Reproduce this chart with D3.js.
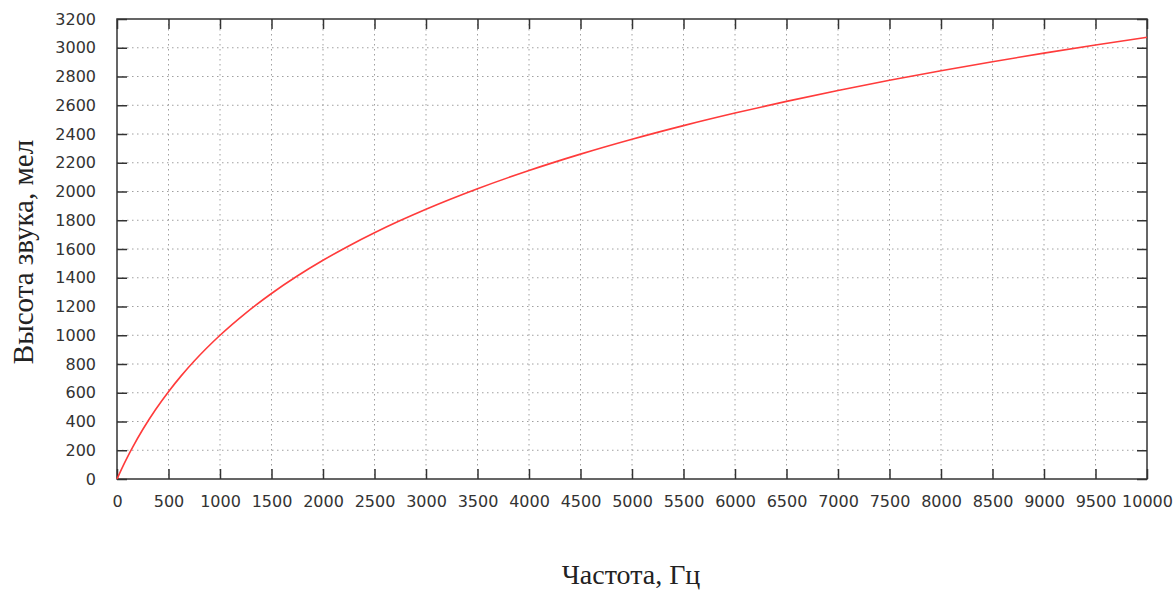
<!DOCTYPE html>
<html><head><meta charset="utf-8">
<script src="https://cdn.jsdelivr.net/npm/d3@7"></script>
<style>body{margin:0;background:#fff;}svg{display:block;}</style>
</head><body>
<svg id="c" width="1174" height="592"></svg>
<script>
const freqHz = [0,50,100,125,150,250,375,500,625,750,1000,1250,1500,1750,2000,2250,2500,2750,3000,3500,4000,4500,5000,5500,6000,6500,7000,7500,8000,8500,9000,9500,10000];
const pitchMel = [0,77.8,150.5,185.2,218.8,344.2,483.5,607.4,719.1,820.7,1000,1154.6,1290.6,1411.9,1521.4,1621.2,1712.9,1797.6,1876.5,2019.3,2146.1,2260,2363.5,2458.3,2545.7,2626.8,2702.5,2773.4,2840.1,2903.1,2962.7,3019.3,3073.2];
const xTicks = d3.range(0, 10001, 500);
const yTicks = d3.range(0, 3201, 200);
const xTitle = "Частота, Гц";
const yTitle = "Высота звука, мел";

const svg = d3.select("#c");
const L = 117, R = 1147, T = 19, B = 479;
const x = d3.scaleLinear().domain([0, 10000]).range([L, R]);
const y = d3.scaleLinear().domain([0, 3200]).range([B, T]);

// grid
const g = svg.append("g");
g.selectAll("line.gx").data(xTicks.slice(1, -1)).join("line")
  .attr("x1", d => x(d)).attr("x2", d => x(d)).attr("y1", T).attr("y2", B)
  .attr("stroke", "#a0a0a0").attr("stroke-width", 1).attr("stroke-dasharray", "1.5,3.5");
g.selectAll("line.gy").data(yTicks.slice(1, -1)).join("line")
  .attr("x1", L).attr("x2", R).attr("y1", d => y(d)).attr("y2", d => y(d))
  .attr("stroke", "#a0a0a0").attr("stroke-width", 1).attr("stroke-dasharray", "1.5,3.5");

// axes
const tickLen = 10;
const xb = svg.append("g").attr("transform", `translate(0,${B})`)
  .call(d3.axisBottom(x).tickValues(xTicks).tickSize(-tickLen).tickPadding(tickLen + 7).tickFormat(d3.format("d")));
const xt = svg.append("g").attr("transform", `translate(0,${T})`)
  .call(d3.axisTop(x).tickValues(xTicks).tickSize(-tickLen).tickFormat(""));
const yl = svg.append("g").attr("transform", `translate(${L},0)`)
  .call(d3.axisLeft(y).tickValues(yTicks).tickSize(-tickLen).tickPadding(tickLen + 11).tickFormat(d3.format("d")));
const yr = svg.append("g").attr("transform", `translate(${R},0)`)
  .call(d3.axisRight(y).tickValues(yTicks).tickSize(-tickLen).tickFormat(""));
[xb, xt, yl, yr].forEach(a => {
  a.select(".domain").remove();
  a.selectAll(".tick line").attr("stroke", "#333").attr("stroke-width", 1.5);
  a.selectAll(".tick text").attr("fill", "#333").style("font-family", "'DejaVu Sans', sans-serif").style("font-size", "16px");
});

// frame
svg.append("rect").attr("x", L).attr("y", T).attr("width", R - L).attr("height", B - T)
  .attr("fill", "none").attr("stroke", "#333").attr("stroke-width", 1.5);

// curve
svg.append("path").datum(freqHz.map((f, i) => [f, pitchMel[i]]))
  .attr("d", d3.line().x(d => x(d[0])).y(d => y(d[1])).curve(d3.curveMonotoneX))
  .attr("fill", "none").attr("stroke", "#ff3b3b").attr("stroke-width", 1.6);

// titles
svg.append("text").attr("x", 631).attr("y", 584).attr("text-anchor", "middle")
  .style("font-family", "'Liberation Serif', 'Times New Roman', serif").style("font-size", "28px").attr("fill", "#222")
  .text(xTitle);
svg.append("text").attr("transform", `translate(33,252) rotate(-90)`).attr("text-anchor", "middle")
  .style("font-family", "'Liberation Serif', 'Times New Roman', serif").style("font-size", "29px").attr("fill", "#222")
  .text(yTitle);
</script>
</body></html>
